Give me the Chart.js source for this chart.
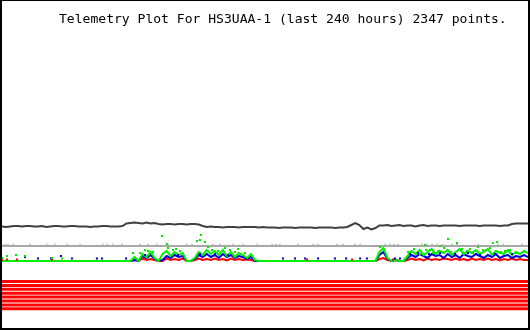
<!DOCTYPE html>
<html>
<head>
<meta charset="utf-8">
<script src="https://cdn.jsdelivr.net/npm/chart.js@4/dist/chart.umd.min.js"></script>
<style>
  html, body { margin: 0; padding: 0; background: #fff; }
  #frame {
    position: relative; width: 530px; height: 330px; box-sizing: border-box;
    border-top: 1px solid #000; border-left: 2px solid #000;
    border-right: 2px solid #000; border-bottom: 2px solid #000; background: #fff;
  }
  #c { position: absolute; left: 0; top: 0; }
  #title {
    position: absolute; left: 57px; top: 10px; white-space: pre;
    font-family: "DejaVu Sans Mono", "Liberation Mono", monospace;
    font-size: 13.05px; line-height: 15px; color: #000; z-index: 2;
  }
</style>
</head>
<body>
<div id="frame">
  <div id="title">Telemetry Plot For HS3UAA-1 (last 240 hours) 2347 points.</div>
  <canvas id="c" width="526" height="327"></canvas>
</div>
<script>
// ---- data ----
const titleText = "Telemetry Plot For HS3UAA-1 (last 240 hours) 2347 points.";
const totalHours = 240;

// channel 1 (dark) sampled on a regular 132-step time grid
const darkSeries = [
  101.5,101,101.5,102,102,101.5,102,102,101.5,101.5,
  102,101,101.5,102,102,101.5,101.5,102,102,101.5,
  101.5,101.5,101,101.5,101.5,102,102,101.5,101.5,101.5,
  102,104.5,
  105,105.5,105,104.5,105.5,104.5,105,
  104,103.5,104,104,103.5,104,104,103.5,104,104,103.5,
  102,
  101,101.5,101,101,100.5,101,101,101,100.5,101,101,101,101,100.5,101,
  100.5,100.5,100.5,100,100.5,100.5,100.5,100,100.5,100.5,
  100.5,100.5,100,100.5,100.5,100.5,100.5,100,100.5,100.5,101,
  103,105,103,99,100.5,98.5,100,102.5,
  102.5,103,102,102.5,103,102,102.5,102.5,101.5,102.5,103,102,102.5,102.5,102,102.5,
  102.5,102.5,102.5,102,102.5,102.5,102.5,102.5,102,102.5,102.5,102.5,102.5,102,102.5,102.5,
  104,104.5,104.5,104.5,104.5
];

const greenSeries = [
  67,67,67,67,67,67,67,67,67,67,67,67,67,67,67,67,
  67,67,67,67,67,67,67,67,67,67,67,67,67,67,67,67,
  67,71,67,74,71,76,70,67,74,77,72,76,73,75,67,67,
  70,76,73,78,74,77,73,78,72,76,71,75,73,70,74,68,
  67,67,67,67,67,67,67,67,67,67,67,67,67,67,67,
  67,67,67,67,67,67,67,67,67,67,67,67,67,67,67,
  76,80,70,67,68,67,67,
  72,77,74,78,73,76,79,74,77,75,78,73,76,79,74,77,
  75,78,74,76,79,73,77,75,74,78,73,76,74,77,75
];

const blueSeries = [
  67,67,67,67,67,67,67,67,67,67,67,67,67,67,67,67,
  67,67,67,67,67,67,67,67,67,67,67,67,67,67,67,67,
  67,68,67,72,70,73,69,67,68,72,70,73,71,72,67,67,
  69,73,71,74,71,73,70,74,71,73,70,72,71,69,71,67,
  67,67,67,67,67,67,67,67,67,67,67,67,67,67,67,
  67,67,67,67,67,67,67,67,67,67,67,67,67,67,67,
  73,76,69,67,68,67,67,
  70,73,71,74,72,70,74,72,73,70,74,71,73,70,74,72,
  71,74,72,70,73,71,74,70,72,73,70,72,71,73,71
];

const redSeries = [
  67,67,67,67,67,67,67,67,67,67,67,67,67,67,67,67,
  67,67,67,67,67,67,67,67,67,67,67,67,67,67,67,67,
  67,68,67,69.5,68,69,68,67,67,69.5,68,69,68,69.5,67,67,
  68,69.5,68,69,68,69.5,68,69,67.5,69.5,68,69,68,68.5,68,67,
  67,67,67,67,67,67,67,67,67,67,67,67,67,67,67,
  67,67,67,67,67,67,67,67,67,67,67,67,67,67,67,
  69,70,68,67,68,67,67,
  68,69.5,68,69,67.5,69.5,68,69,68,69.5,69,68,69.5,68,69,67.5,
  69.5,68,69,68,69.5,68,69,67.5,69,68,69.5,68,69,68,68
];

// channel 2 (grey) read every 20 hours
const grayHours = [0,20,40,60,80,100,120,140,160,180,200,220,240];
const graySeries = [82,82,82,82,82,82,82,82,82,82,82,82,82];

// scattered readings
const grayDotHours = [1.4,2.7,5.0,12.8,20.5,24.2,29.7,35.6,46.1,47.9,50.6,54.8,63.0,66.6,70.7,75.7,
  84.4,86.7,96.3,99.5,105.4,110.0,116.4,123.2,125.0,126.8,135.1,141.9,144.2,152.9,155.6,161.1,
  163.4,174.8,177.0,178.9,180.7,191.6,193.9,196.2,198.5,200.8,205.3,207.6,217.2,226.3,228.6,237.3];
const grayDotValue = 83.5;

const greenDotHours = [0,2.3,6.4,10.5,22.8,27.4,59.8,63.0,65.3,66.6,68.9,73.0,75.3,75.7,78.0,79.4,81.2,
  89.0,90.3,90.8,92.6,94.0,95.8,98.6,101.8,104.0,106.3,107.7,110.9,172.5,
  185.3,188.0,190.7,193.0,193.5,195.3,196.7,199.0,199.9,201.7,203.5,204.9,207.6,209.9,212.2,213.5,
  214.9,217.2,219.5,220.9,222.7,224.0,225.9,227.7,229.5,231.8,234.5,238.2];
const greenDotValues = [70,72,73,72,70,69.5,75,75,78,77,76,92,84,80,78,79,77,
  87,88,93,86,81,78,77,80,78,76,79,75,81,
  76,79,74,83,78,78,75,77,82,80,89,76,85,79,77,79,
  75,81,78,78,80,85,86,76,77,78,75,77];

const blueDotHours = [10.5,16.4,22.4,26.9,31.9,43.3,45.6,56.6,65.3,80.3,90.3,97.2,103.1,
  128.2,133.7,138.3,144.2,151.9,157.0,163.4,166.5,179.3,181.6,
  186.2,189.8,194.8,199.9,206.7,212.6,218.1,225.0,232.7];
const blueDotValues = [71,69.5,69.5,72,69.5,69.5,69.5,69.5,73,73,74,74,73,
  69.5,69.5,69.5,69.5,69.5,69.5,69.5,69.5,69.5,69.5,
  74,75,74,75,74,75,73,74,74];

const redDotHours = [0,2.3,6.8,22.8,139.2,159.7,178.4];
const redDotValues = [68.5,68.5,68.5,68.5,68.5,68.5,68.5];

// eight flat channels (red band)
const stripeLevels = [46.5,42.6,38.7,34.8,30.9,27.0,23.1,19.2];

// ---- build chart ----
const gridHours = darkSeries.map((_, i) => i * totalHours / (darkSeries.length - 1));
const toPts = (xs, ys) => ys.map((y, i) => ({ x: xs[i], y }));

const lineDs = (label, xs, ys, color, width, order) => ({
  type: 'line', label, data: toPts(xs, ys), borderColor: color, backgroundColor: color,
  borderWidth: width, pointRadius: 0, pointHoverRadius: 0, tension: 0, fill: false, order
});
const dotDs = (label, xs, ys, color, r, order) => ({
  type: 'scatter', label, data: toPts(xs, ys), backgroundColor: color, borderColor: color,
  borderWidth: 0, pointStyle: 'rect', pointRadius: r, pointHoverRadius: r, showLine: false, order
});

const datasets = [
  dotDs('green dots', greenDotHours, greenDotValues, '#00e800', 1.45, 0),
  dotDs('blue dots', blueDotHours, blueDotValues, '#0000d8', 1.45, 0),
  dotDs('red dots', redDotHours, redDotValues, '#ff0000', 1.45, 0),
  dotDs('grey dots', grayDotHours, grayDotHours.map(() => grayDotValue), '#b4b4b4', 1.1, 1),
  lineDs('green', gridHours, greenSeries, '#00f000', 2, 2),
  lineDs('blue', gridHours, blueSeries, '#0000d8', 2, 3),
  lineDs('red', gridHours, redSeries, '#ff0000', 2, 4),
  lineDs('dark', gridHours, darkSeries, '#404040', 2, 2),
  lineDs('grey', grayHours, graySeries, '#a8a8a8', 2, 2)
];
stripeLevels.forEach((lv, k) => {
  datasets.push(lineDs('band ' + (k + 1), [0, totalHours], [lv, lv], '#ff0000', 3, 5));
});

new Chart(document.getElementById('c'), {
  type: 'line',
  data: { datasets },
  options: {
    responsive: false, animation: false, devicePixelRatio: 1,
    layout: { padding: 0, autoPadding: false },
    plugins: { legend: { display: false }, tooltip: { enabled: false }, title: { display: false } },
    scales: {
      x: { type: 'linear', min: 0, max: totalHours, display: false },
      y: { type: 'linear', min: 0, max: 327, display: false }
    }
  }
});
document.getElementById('title').textContent = titleText;
</script>
</body>
</html>
